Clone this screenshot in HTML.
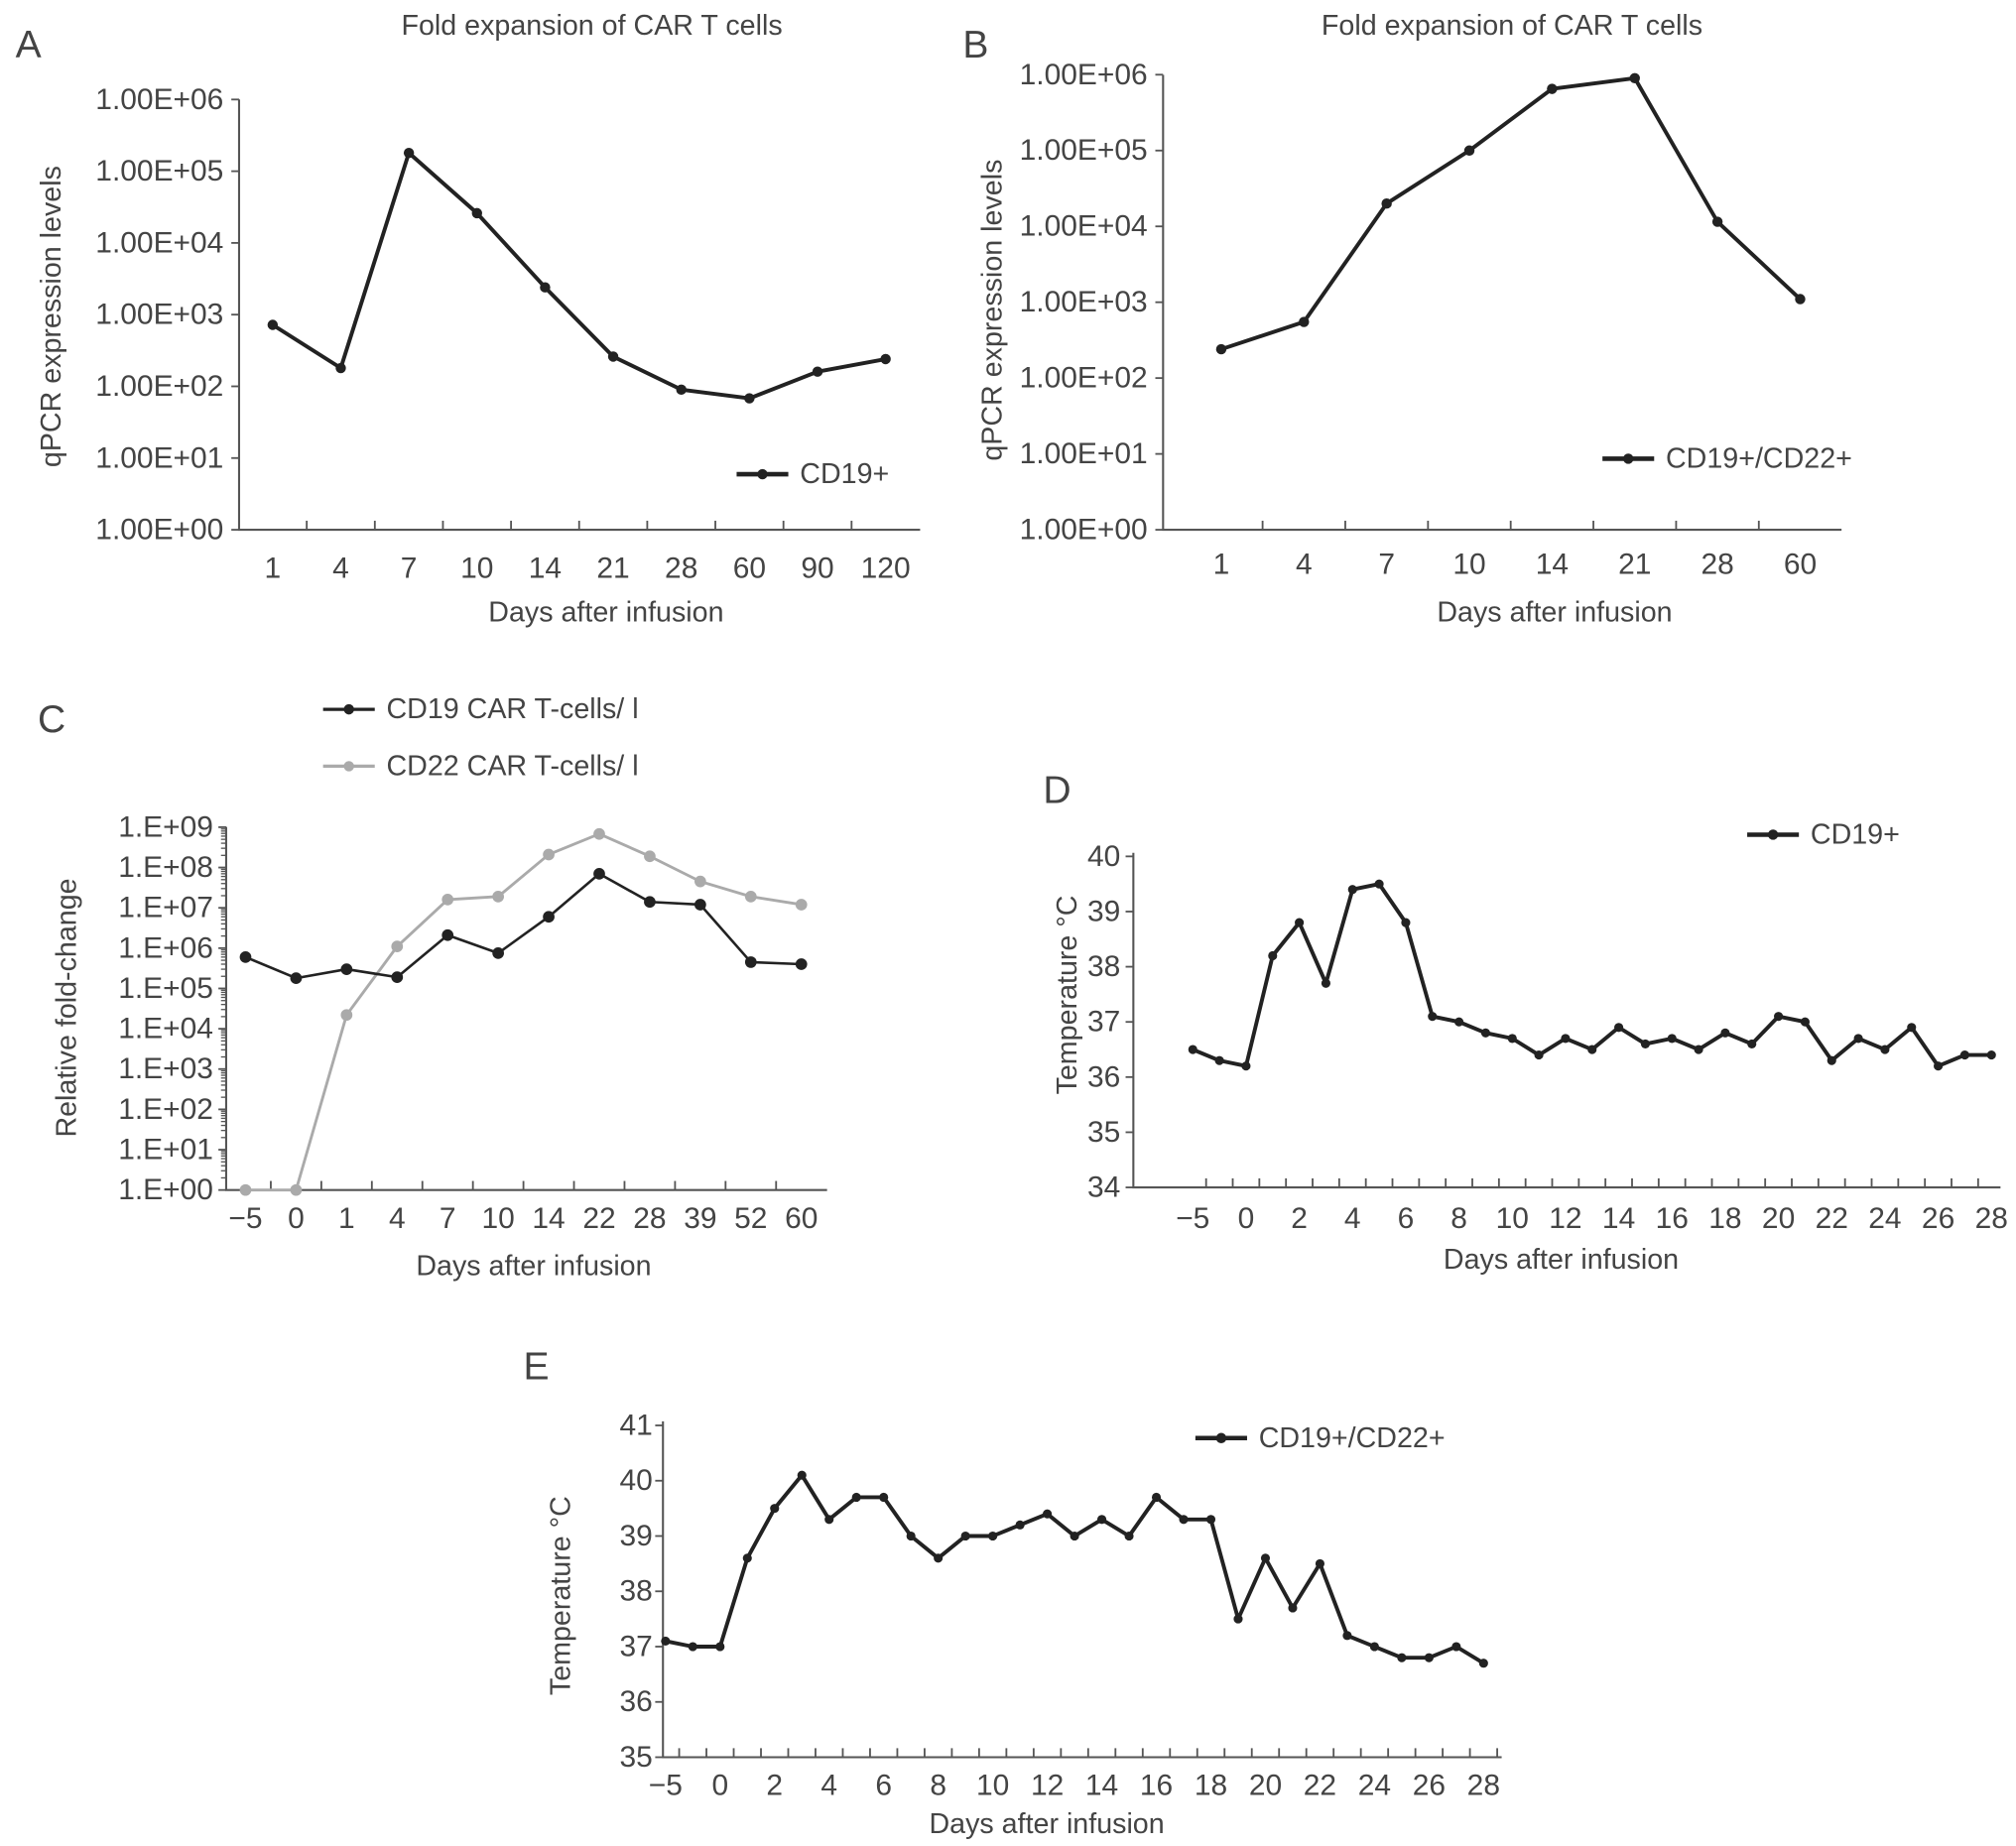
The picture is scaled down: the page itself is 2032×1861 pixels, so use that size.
<!DOCTYPE html>
<html><head><meta charset="utf-8"><style>
html,body{margin:0;padding:0;background:#fff}
svg{display:block}
text{font-family:"Liberation Sans",sans-serif;fill:#444}
</style></head><body>
<svg id="fig" width="2032" height="1861" viewBox="0 0 1560 1428.7" xmlns="http://www.w3.org/2000/svg"></svg>
<script>
// Panel A
const aCats = ["1","4","7","10","14","21","28","60","90","120"];
const aVals = [720,180,180000,26000,2400,260,90,68,160,240];
const aTicks = ["1.00E+00","1.00E+01","1.00E+02","1.00E+03","1.00E+04","1.00E+05","1.00E+06"];
// Panel B
const bCats = ["1","4","7","10","14","21","28","60"];
const bVals = [240,550,20000,100000,650000,900000,11500,1100];
const bTicks = ["1.00E+00","1.00E+01","1.00E+02","1.00E+03","1.00E+04","1.00E+05","1.00E+06"];
// Panel C
const cCats = ["-5","0","1","4","7","10","14","22","28","39","52","60"];
const cCD19 = [600000,180000,300000,190000,2100000,750000,6000000,70000000,14000000,12000000,450000,400000];
const cCD22 = [1,1,22000,1100000,16000000,19000000,210000000,680000000,190000000,45000000,19000000,12000000];
const cTicks = ["1.E+00","1.E+01","1.E+02","1.E+03","1.E+04","1.E+05","1.E+06","1.E+07","1.E+08","1.E+09"];
// Panel D
const dCats = ["-5","","0","1","2","3","4","5","6","7","8","9","10","11","12","13","14","15","16","17","18","19","20","21","22","23","24","25","26","27","28"];
const dVals = [36.5,36.3,36.2,38.2,38.8,37.7,39.4,39.5,38.8,37.1,37.0,36.8,36.7,36.4,36.7,36.5,36.9,36.6,36.7,36.5,36.8,36.6,37.1,37.0,36.3,36.7,36.5,36.9,36.2,36.4,36.4];
const dTicks = ["34","35","36","37","38","39","40"];
// Panel E
const eCats = dCats;
const eVals = [37.1,37.0,37.0,38.6,39.5,40.1,39.3,39.7,39.7,39.0,38.6,39.0,39.0,39.2,39.4,39.0,39.3,39.0,39.7,39.3,39.3,37.5,38.6,37.7,38.5,37.2,37.0,36.8,36.8,37.0,36.7];
const eTicks = ["35","36","37","38","39","40","41"];

const NS="http://www.w3.org/2000/svg";
const svg=document.getElementById('fig');
function mk(tag,attrs,parent,txt){const e=document.createElementNS(NS,tag);for(const k in attrs)e.setAttribute(k,attrs[k]);if(txt!==undefined)e.textContent=txt;(parent||svg).appendChild(e);return e;}
function grp(name){const g=mk('g',{});return g;}
function txt(g,x,y,s,size,name,anchor,extra){const t=mk('text',Object.assign({x:x,y:y,'font-size':size,'text-anchor':anchor||'middle','dominant-baseline':'central'},extra||{}),g,s);return t;}

function chart(o){
  const g=grp(o.name);
  const yS=v=>o.y0-(o.log?Math.log10(Math.max(v,1)):(v-o.vmin))*o.yStep;
  const xS=i=>o.xFirst+i*o.xStep;
  const ax=mk('path',{d:`M${o.ax} ${o.yTop}V${o.y0}H${o.axEnd}`,stroke:'#555','stroke-width':1.6,fill:'none'},g);
  
  o.ticks.forEach((t,i)=>{
    const v=o.log?Math.pow(10,i):o.vmin+i;
    const y=yS(v);
    const tk=mk('line',{x1:o.ax-6,x2:o.ax,y1:y,y2:y,stroke:'#555','stroke-width':1.4},g);
    
    txt(g,o.ax-o.labGap,y,t,o.tfs,'y-tick-label','end');
    if(o.minor&&i<o.ticks.length-1){for(let m=2;m<10;m++){const ym=yS(Math.pow(10,i)*m);const mt=mk('line',{x1:o.ax-4,x2:o.ax,y1:ym,y2:ym,stroke:'#555','stroke-width':1},g);}}
  });
  o.cats.forEach((c,i)=>{
    const x=xS(i);
    const bx=x+o.xStep/2;
    if(bx<o.axEnd-2){const tk=mk('line',{x1:bx,x2:bx,y1:o.y0-7,y2:o.y0,stroke:'#555','stroke-width':1.4},g);}
    if(c!==""&&(!o.labEvery||i%2===0))txt(g,x,o.xLabY,c==="-5"?"\u22125":c,o.tfs,'x-tick-label');
  });
  o.series.forEach(s=>{
    const sg=grp(s.name);g.appendChild(sg);
    const pts=s.vals.map((v,i)=>xS(i)+','+yS(v)).join(' ');
    const pl=mk('polyline',{points:pts,fill:'none',stroke:s.color,'stroke-width':s.w,'stroke-linejoin':'round'},sg);
    
    s.vals.forEach((v,i)=>{const c=mk('circle',{cx:xS(i),cy:yS(v),r:s.r,fill:s.color},sg);});
  });
  txt(g,o.xTitle[0],o.xTitle[1],'Days after infusion',o.afs,'x-axis-title');
  txt(g,o.yTitle[0],o.yTitle[1],o.yTitleText,o.afs,'y-axis-title','middle',{transform:`rotate(-90 ${o.yTitle[0]} ${o.yTitle[1]})`});
  return g;
}
function legend(name,x,y,color,label,w){
  const g=grp(name);
  const l=mk('line',{x1:x,x2:x+40,y1:y,y2:y,stroke:color,'stroke-width':w},g);
  const c=mk('circle',{cx:x+20,cy:y,r:4,fill:color},g);
  txt(g,x+49,y,label,22,'legend-label','start');
}

// Panel A
txt(svg,22,35,'A',30,'panel-label-a','middle');
txt(svg,458,20,'Fold expansion of CAR T cells',22,'chart-title-a');
chart({name:'chart-a',log:true,ax:185,axEnd:712,yTop:77,y0:410,yStep:55.5,ticks:aTicks,labGap:12,cats:aCats,xFirst:211,xStep:52.7,xLabY:440,tfs:23,afs:22,
  series:[{name:'series-cd19',vals:aVals,color:'#222',w:3,r:4}],xTitle:[469,474],yTitle:[40,245],yTitleText:'qPCR expression levels'});
legend('legend-a',570,367,'#222','CD19+',3.5);

// Panel B
txt(svg,755,35,'B',30,'panel-label-b');
txt(svg,1170,20,'Fold expansion of CAR T cells',22,'chart-title-b');
chart({name:'chart-b',log:true,ax:900,axEnd:1425,yTop:58,y0:410,yStep:58.7,ticks:bTicks,labGap:12,cats:bCats,xFirst:945,xStep:64,xLabY:437,tfs:23,afs:22,
  series:[{name:'series-cd19-cd22',vals:bVals,color:'#222',w:3,r:4}],xTitle:[1203,474],yTitle:[768,240],yTitleText:'qPCR expression levels'});
legend('legend-b',1240,355,'#222','CD19+/CD22+',3.5);

// Panel C
txt(svg,40,557,'C',30,'panel-label-c');
chart({name:'chart-c',log:true,minor:true,ax:175,axEnd:640,yTop:640,y0:921,yStep:31.2,ticks:cTicks,labGap:10,cats:cCats,xFirst:190,xStep:39.1,xLabY:943,tfs:23,afs:22,
  series:[{name:'series-cd22',vals:cCD22,color:'#aaa',w:2.2,r:4.5},{name:'series-cd19',vals:cCD19,color:'#222',w:2,r:4.5}],xTitle:[413,980],yTitle:[52,780],yTitleText:'Relative fold-change'});
legend('legend-c-cd19',250,549,'#222','CD19 CAR T-cells/ l',2.5);
legend('legend-c-cd22',250,593,'#aaa','CD22 CAR T-cells/ l',2.5);

// Panel D
txt(svg,818,612,'D',30,'panel-label-d');
chart({name:'chart-d',log:false,vmin:34,ax:877,axEnd:1548,yTop:660,y0:919,yStep:42.7,ticks:dTicks,labGap:10,cats:dCats,labEvery:true,xFirst:923,xStep:20.6,xLabY:943,tfs:23,afs:22,
  series:[{name:'series-temp-cd19',vals:dVals,color:'#222',w:3,r:3.5}],xTitle:[1208,975],yTitle:[826,770],yTitleText:'Temperature \u00B0C'});
legend('legend-d',1352,646,'#222','CD19+',3.5);

// Panel E
txt(svg,415,1058,'E',30,'panel-label-e');
chart({name:'chart-e',log:false,vmin:35,ax:513,axEnd:1162,yTop:1100,y0:1360,yStep:42.8,ticks:eTicks,labGap:8,cats:eCats,labEvery:true,xFirst:515,xStep:21.1,xLabY:1382,tfs:23,afs:22,
  series:[{name:'series-temp-cd19-cd22',vals:eVals,color:'#222',w:3,r:3.5}],xTitle:[810,1412],yTitle:[434,1235],yTitleText:'Temperature \u00B0C'});
legend('legend-e',925,1113,'#222','CD19+/CD22+',3.5);
</script>
</body></html>
